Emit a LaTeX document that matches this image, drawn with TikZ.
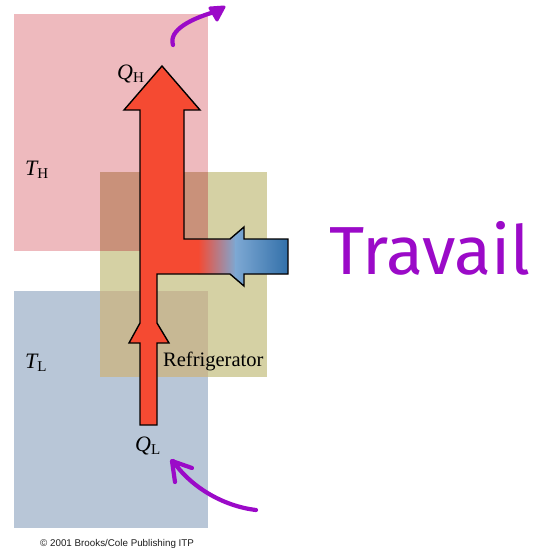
\documentclass[tikz,border=0pt]{standalone}
\usepackage{fontspec}
\setmainfont{Liberation Serif}
\newfontfamily\sansf{Liberation Sans}
\newfontfamily\handf{Fira Sans}
\definecolor{hotpink}{RGB}{238,186,190}
\definecolor{coldblue}{RGB}{184,198,215}
\definecolor{fridge}{RGB}{213,209,164}
\definecolor{hotfridge}{RGB}{201,145,122}
\definecolor{coldfridge}{RGB}{199,184,148}
\definecolor{arrowred}{RGB}{245,74,50}
\definecolor{lightwork}{RGB}{125,168,211}
\definecolor{darkwork}{RGB}{48,110,168}
\definecolor{ink}{RGB}{155,10,200}
\newcommand{\arrowcoords}{(162,66) -- (200,110) -- (184,110) -- (184,239) -- (230,239) -- (244,227) -- (244,239) -- (288,239) -- (288,274) -- (244,274) -- (244,286) -- (230,274) -- (157,274) -- (157,323) -- (169,343) -- (157,343) -- (157,425) -- (140,425) -- (140,343) -- (129,343) -- (140,323) -- (140,110) -- (124,110) -- cycle}
\newcommand{\symb}[2]{{\fontsize{22}{22}\selectfont\itshape #1}\raisebox{-0.32em}{\fontsize{15}{15}\selectfont #2}}
\tikzset{
  lab/.style={inner sep=0pt, anchor=base west},
  pen/.style={draw=ink, line width=4.2pt, line cap=round, line join=round}
}
\begin{document}
\begin{tikzpicture}[x=1pt,y=-1pt]
\useasboundingbox (0,0) rectangle (537,550);
\fill[white] (0,0) rectangle (537,550);
% reservoirs
\fill[hotpink] (14,14) rectangle (208,251);
\fill[coldblue] (14,291) rectangle (208,528);
\fill[fridge] (100,172) rectangle (267,377);
\fill[hotfridge] (100,172) rectangle (208,251);
\fill[coldfridge] (100,291) rectangle (208,377);
% arrow
\fill[arrowred] \arrowcoords;
\begin{scope}
  \clip \arrowcoords;
  \shade[left color=arrowred, right color=lightwork] (198,230) rectangle (236,290);
  \shade[left color=lightwork, right color=darkwork] (235.5,220) rectangle (290,290);
\end{scope}
\draw[black, line width=1.4pt, line join=miter] \arrowcoords;
% labels
\node[lab] (qh) at (117,79) {\symb{Q}{H}};
\node[lab] (th) at (25,175) {\symb{T}{H}};
\node[lab] (tl) at (25,368) {\symb{T}{L}};
\node[lab] (ql) at (135,451) {\symb{Q}{L}};
\node[lab] (fr) at (163,366) {\fontsize{20.5}{20.5}\selectfont Refrigerator};
\node[lab] (cp) at (40,546.5) {\sansf\fontsize{9.8}{9.8}\selectfont\color[RGB]{30,30,30}\textcopyright{} 2001 Brooks/Cole Publishing ITP};
\node[lab, text=ink] (tr) at (329,274) {\handf\fontsize{68}{68}\selectfont Travail};
% hand-drawn arrows
\draw[pen] (173,45) .. controls (168,30) and (192,18) .. (218,11);
\draw[pen, fill=ink, line width=3pt] (210,8) -- (224,7) -- (217,20) -- cycle;
\draw[pen] (256,510) .. controls (222,506) and (190,486) .. (173,461);
\draw[pen] (175,482) -- (172,461) -- (192,468);
\end{tikzpicture}
\end{document}
